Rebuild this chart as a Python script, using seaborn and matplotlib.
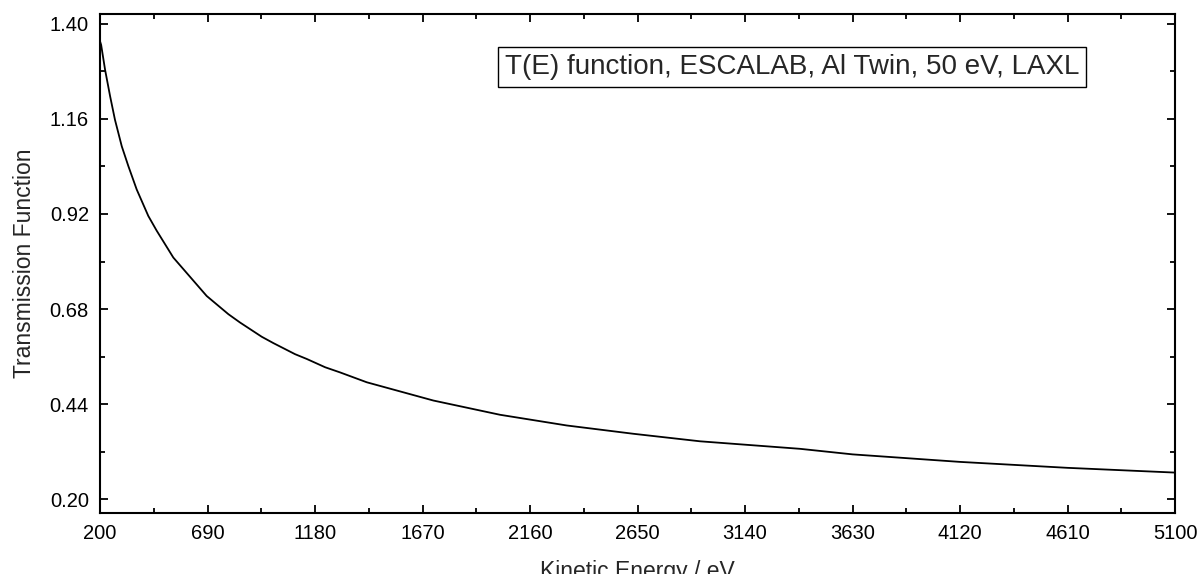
import numpy as np
import pandas as pd
import matplotlib
matplotlib.use("Agg")
import matplotlib.pyplot as plt
import seaborn as sns

# values
kinetic_energy = [200, 205, 223, 246, 268, 299, 329, 367, 420, 458, 534, 686,
                  785, 838, 937, 990, 1089, 1142, 1226, 1294, 1416, 1719,
                  2023, 2327, 2631, 2935, 3391, 3630, 4120, 4610, 5100]
transmission = [1.356, 1.347, 1.284, 1.217, 1.158, 1.091, 1.041, 0.982, 0.915,
                0.878, 0.810, 0.713, 0.667, 0.646, 0.610, 0.594, 0.566, 0.554,
                0.533, 0.520, 0.495, 0.449, 0.413, 0.386, 0.365, 0.346, 0.327,
                0.313, 0.294, 0.279, 0.267]
x_ticks = [200, 690, 1180, 1670, 2160, 2650, 3140, 3630, 4120, 4610, 5100]
y_ticks = [0.20, 0.44, 0.68, 0.92, 1.16, 1.40]
title_text = "T(E) function, ESCALAB, Al Twin, 50 eV, LAXL"

sns.set_style("ticks")
plt.rcParams["font.family"] = ["Liberation Sans", "DejaVu Sans"]

df = pd.DataFrame({"KE": kinetic_energy, "T": transmission})

fig = plt.figure(figsize=(12.01, 5.74), dpi=100)
ax = fig.add_axes([0.0833, 0.1063, 0.8951, 0.8693])
sns.lineplot(data=df, x="KE", y="T", color="black", linewidth=1.3, ax=ax)

ax.set_xlim(200, 5100)
ax.set_ylim(0.165, 1.425)
ax.set_xticks(x_ticks)
ax.set_yticks(y_ticks)
ax.set_xticks((np.array(x_ticks[:-1]) + 245).tolist(), minor=True)
ax.set_yticks((np.array(y_ticks[:-1]) + 0.12).tolist(), minor=True)
ax.set_xticklabels([str(v) for v in x_ticks])
ax.set_yticklabels([f"{v:.2f}" for v in y_ticks])
ax.tick_params(which="both", direction="in", top=True, right=True,
               labelsize=14.5, width=1.3, colors="black")
ax.tick_params(which="major", length=6, pad=8)
ax.tick_params(which="minor", length=3.5)
for s in ax.spines.values():
    s.set_linewidth(1.5)
    s.set_color("black")

ax.set_xlabel("Kinetic Energy / eV", fontsize=16.5, labelpad=12)
ax.set_ylabel("Transmission Function", fontsize=16.5, labelpad=10)

ax.text(0.644, 0.894, title_text, transform=ax.transAxes, ha="center",
        va="center", fontsize=20,
        bbox=dict(boxstyle="square,pad=0.25", facecolor="white",
                  edgecolor="black", linewidth=1.0))

fig.savefig("out.png", dpi=100)
plt.close()
